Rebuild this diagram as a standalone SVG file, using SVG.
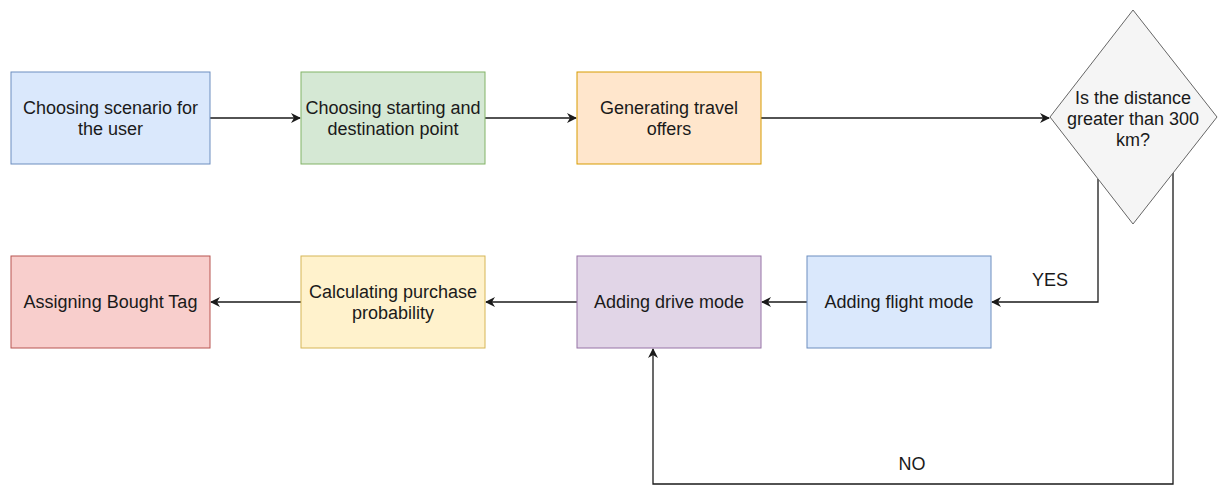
<svg xmlns="http://www.w3.org/2000/svg" width="1221" height="485" viewBox="0 0 1221 485">
  <style>
    .lbl { font-family: "Liberation Sans", Arial, sans-serif; font-size: 18px; fill: #1a1a1a; text-anchor: middle; }
    .edge { fill: none; stroke: #1a1a1a; stroke-width: 1.3; }
    .blue { fill: #dae8fc; stroke: #6c8ebf; }
    .green { fill: #d5e8d4; stroke: #82b366; }
    .orange { fill: #ffe6cc; stroke: #d79b00; }
    .grey { fill: #f5f5f5; stroke: #666666; }
    .red { fill: #f8cecc; stroke: #b85450; }
    .yellow { fill: #fff2cc; stroke: #d6b656; }
    .purple { fill: #e1d5e7; stroke: #9673a6; }
  </style>
  <defs>
    <marker id="arrow" viewBox="0 0 10 10" refX="9" refY="5" markerWidth="10" markerHeight="10" markerUnits="userSpaceOnUse" orient="auto">
      <path d="M0,0 L10,5 L0,10 L3,5 Z" fill="#1a1a1a"/>
    </marker>
  </defs>
  <rect width="1221" height="485" fill="#ffffff"/>

  <g id="connectors">
    <path class="edge" d="M210,118 H300" marker-end="url(#arrow)"/>
    <path class="edge" d="M485,118 H576" marker-end="url(#arrow)"/>
    <path class="edge" d="M761,118 H1049" marker-end="url(#arrow)"/>
    <path class="edge" d="M1098,179 V302 H992" marker-end="url(#arrow)"/>
    <path class="edge" d="M1173,173 V484 H653 V349" marker-end="url(#arrow)"/>
    <path class="edge" d="M807,302 H762" marker-end="url(#arrow)"/>
    <path class="edge" d="M577,302 H486" marker-end="url(#arrow)"/>
    <path class="edge" d="M301,302 H211" marker-end="url(#arrow)"/>
    <text class="lbl" x="1050" y="286">YES</text>
    <text class="lbl" x="912" y="470">NO</text>
  </g>

  <g id="choose-scenario">
    <rect class="blue" x="11" y="72" width="199" height="92"/>
    <text class="lbl" x="110.5" y="114">Choosing scenario for</text>
    <text class="lbl" x="110.5" y="135">the user</text>
  </g>
  <g id="choose-points">
    <rect class="green" x="301" y="72" width="184" height="92"/>
    <text class="lbl" x="393" y="114">Choosing starting and</text>
    <text class="lbl" x="393" y="135">destination point</text>
  </g>
  <g id="generate-offers">
    <rect class="orange" x="577" y="72" width="184" height="92"/>
    <text class="lbl" x="669" y="114">Generating travel</text>
    <text class="lbl" x="669" y="135">offers</text>
  </g>
  <g id="distance-check">
    <polygon class="grey" points="1133,10 1217,117 1133,224 1050,117"/>
    <text class="lbl" x="1133" y="104">Is the distance</text>
    <text class="lbl" x="1133" y="125">greater than 300</text>
    <text class="lbl" x="1133" y="146">km?</text>
  </g>
  <g id="add-flight">
    <rect class="blue" x="807" y="256" width="184" height="92"/>
    <text class="lbl" x="899" y="308">Adding flight mode</text>
  </g>
  <g id="add-drive">
    <rect class="purple" x="577" y="256" width="184" height="92"/>
    <text class="lbl" x="669" y="308">Adding drive mode</text>
  </g>
  <g id="purchase-probability">
    <rect class="yellow" x="301" y="256" width="184" height="92"/>
    <text class="lbl" x="393" y="298">Calculating purchase</text>
    <text class="lbl" x="393" y="319">probability</text>
  </g>
  <g id="bought-tag">
    <rect class="red" x="11" y="256" width="199" height="92"/>
    <text class="lbl" x="110.5" y="308">Assigning Bought Tag</text>
  </g>
</svg>
